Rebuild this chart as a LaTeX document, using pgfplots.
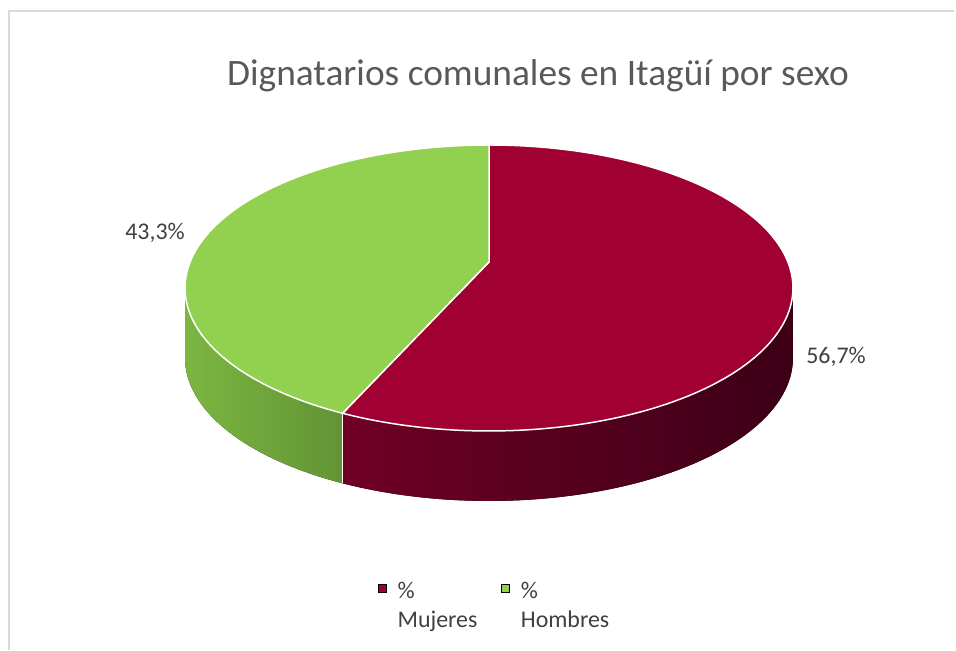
\documentclass[border=0pt]{standalone}
\usepackage{pgfplots}
\usepackage{pgfplotstable}
\pgfplotsset{compat=1.18}
\usepgfplotslibrary{fillbetween}
\usepackage{fontspec}
\setmainfont{Carlito}
\definecolor{mred}{RGB}{160,0,50}
\definecolor{mgreen}{RGB}{146,208,80}
\definecolor{mredL}{RGB}{112,0,38}
\definecolor{mredD}{RGB}{60,0,22}
\definecolor{mgreenL}{RGB}{124,182,66}
\definecolor{mgreenD}{RGB}{98,148,52}
\definecolor{titlegray}{RGB}{89,89,89}
\definecolor{labgray}{RGB}{64,64,64}
\definecolor{bordergray}{RGB}{217,217,217}
\pgfplotstableread{
label value
Mujeres 56.7
Hombres 43.3
}\piedata
\begin{document}
\begin{tikzpicture}
\pgfplotstablegetelem{0}{value}\of\piedata \let\valM\pgfplotsretval
\pgfplotstablegetelem{1}{value}\of\piedata \let\valH\pgfplotsretval
% angle measured clockwise from the top of the pie
\pgfmathsetmacro{\angB}{3.6*\valM}
% perspective projection constants of the 3D pie
\def\K{0.1818}\def\A{298.9}\def\P{262}\def\Q{90.64}\def\D{70}
\pgfmathsetmacro{\angR}{acos(-\K)}
\pgfmathsetmacro{\angL}{360-\angR}
\pgfmathsetmacro{\bx}{489+\A*sin(\angB)/(1+\K*cos(\angB))}
\pgfmathsetmacro{\by}{(\P-\Q*cos(\angB))/(1+\K*cos(\angB))}
\pgfmathsetmacro{\byb}{\by+\D}
\begin{axis}[
  width=956bp, height=650bp, scale only axis,
  xmin=0, xmax=956, ymin=0, ymax=650, y dir=reverse,
  hide axis, clip=false,
  legend style={at={(axis cs:375,578)}, anchor=north west, draw=none, fill=none,
    legend columns=2, font=\fontsize{24}{29}\selectfont, text=labgray,
    cells={anchor=north west, align=left},
    /tikz/every odd column/.append style={column sep=9bp},
    /tikz/every even column/.append style={column sep=22bp}},
  legend image code/.code={\fill[#1] (0bp,-12bp) rectangle (8bp,-4bp);},
]
\path (axis cs:0,0) rectangle (axis cs:956,650);
% border (top and left only visible)
\draw[bordergray, line width=1.5bp] (axis cs:9,650) -- (axis cs:9,11) -- (axis cs:954,11);
% side of the pie: red part
\addplot[draw=none, name path=rt, domain=\angR:\angB, samples=80, forget plot]
  ({489+\A*sin(x)/(1+\K*cos(x))},{(\P-\Q*cos(x))/(1+\K*cos(x))});
\addplot[draw=none, name path=rb, domain=\angR:\angB, samples=80, forget plot]
  ({489+\A*sin(x)/(1+\K*cos(x))},{\D+(\P-\Q*cos(x))/(1+\K*cos(x))});
\addplot[left color=mredL, right color=mredD, draw=none, forget plot] fill between[of=rt and rb];
% side: green part
\addplot[draw=none, name path=gt, domain=\angB:\angL, samples=60, forget plot]
  ({489+\A*sin(x)/(1+\K*cos(x))},{(\P-\Q*cos(x))/(1+\K*cos(x))});
\addplot[draw=none, name path=gb, domain=\angB:\angL, samples=60, forget plot]
  ({489+\A*sin(x)/(1+\K*cos(x))},{\D+(\P-\Q*cos(x))/(1+\K*cos(x))});
\addplot[left color=mgreenL, right color=mgreenD, draw=none, forget plot] fill between[of=gt and gb];
\draw[white, line width=1.5bp] (axis cs:\bx,\by) -- (axis cs:\bx,\byb);
% top slices
\addplot[fill=mred, draw=white, line width=1.5bp, domain=0:\angB, samples=140, forget plot]
  ({489+\A*sin(x)/(1+\K*cos(x))},{(\P-\Q*cos(x))/(1+\K*cos(x))}) -- (axis cs:489,\P) -- cycle;
\addplot[fill=mgreen, draw=white, line width=1.5bp, domain=\angB:360, samples=110, forget plot]
  ({489+\A*sin(x)/(1+\K*cos(x))},{(\P-\Q*cos(x))/(1+\K*cos(x))}) -- (axis cs:489,\P) -- cycle;
% data labels
\node[text=labgray, font=\fontsize{24}{29}\selectfont] at (axis cs:155,233) {43,3\%};
\node[text=labgray, font=\fontsize{24}{29}\selectfont] at (axis cs:836,357) {56,7\%};
% title
\node[text=titlegray, font=\fontsize{37.5}{45}\selectfont] at (axis cs:538,76) {Dignatarios comunales en Itagüí por sexo};
% legend
\addlegendimage{fill=mred}
\addlegendentry{\%\\Mujeres}
\addlegendimage{fill=mgreen}
\addlegendentry{\%\\Hombres}
\end{axis}
\end{tikzpicture}
\end{document}
